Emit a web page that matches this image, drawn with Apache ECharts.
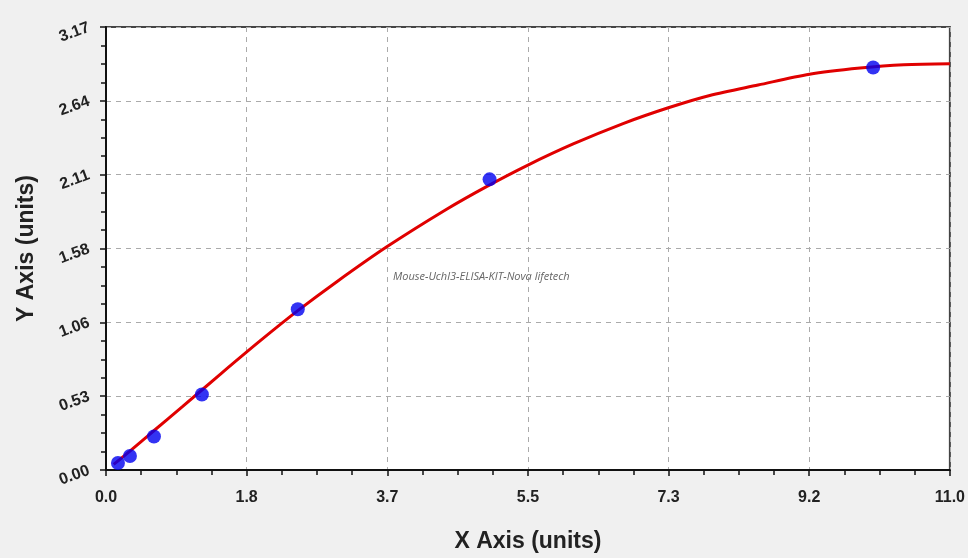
<!DOCTYPE html>
<html>
<head>
<meta charset="utf-8">
<script src="https://cdn.jsdelivr.net/npm/echarts@6/dist/echarts.min.js"></script>
<style>
  html, body { margin: 0; padding: 0; background: #f0f0f0; }
  #chart { width: 968px; height: 558px; }
</style>
</head>
<body>
<div id="chart"></div>
<script>
/* Standard curve - ELISA kit, concentration vs OD */

// Standards (blue dots)
const stdX = [0.156, 0.312, 0.625, 1.25, 2.5, 5, 10];
const stdY = [0.05, 0.10, 0.24, 0.54, 1.15, 2.08, 2.88];

// Fitted curve (red line)
const curveX = [0.1, 0.3, 0.6, 1.0, 1.5, 2.0, 2.5, 3.0, 3.66, 4.44, 4.96, 5.5, 6.09, 6.74, 7.33, 7.87, 8.5, 9.17, 9.83, 10.4, 11.0];
const curveY = [0.04, 0.13, 0.27, 0.455, 0.69, 0.92, 1.14, 1.344, 1.597, 1.866, 2.028, 2.182, 2.333, 2.479, 2.592, 2.68, 2.755, 2.832, 2.876, 2.9, 2.907];

// Tick labels as printed
const xTickLabels = ['0.0', '1.8', '3.7', '5.5', '7.3', '9.2', '11.0'];
const yTickLabels = ['0.00', '0.53', '1.06', '1.58', '2.11', '2.64', '3.17'];

const xMax = 11.0, yMax = 3.17;
const xStep = xMax / 6, yStep = yMax / 6;

const chart = echarts.init(document.getElementById('chart'), null, { renderer: 'canvas' });

const labelFont = 'Arial, "Liberation Sans", sans-serif';

const option = {
  backgroundColor: '#f0f0f0',
  animation: false,
  grid: {
    left: 106, right: 18, top: 27, bottom: 85,
    show: true, backgroundColor: '#ffffff',
    borderColor: '#444', borderWidth: 2
  },
  xAxis: {
    type: 'value',
    min: 0, max: xMax, interval: xStep,
    name: 'X Axis (units)',
    nameLocation: 'middle',
    nameGap: 60,
    nameTextStyle: { fontSize: 23, fontWeight: 'bold', color: '#222', fontFamily: labelFont },
    axisLine: { show: true, lineStyle: { color: '#111', width: 2 } },
    axisTick: { show: true, length: 6, lineStyle: { color: '#111', width: 1.5 } },
    minorTick: { show: true, splitNumber: 4, length: 5, lineStyle: { color: '#111', width: 1.5 } },
    axisLabel: {
      margin: 20, fontSize: 16, fontWeight: 'bold', color: '#222', fontFamily: labelFont,
      formatter: v => xTickLabels[Math.round(v / xStep)] ?? ''
    },
    splitLine: { show: true, lineStyle: { type: [5, 5], color: '#aaa', width: 1 } }
  },
  yAxis: {
    type: 'value',
    min: 0, max: yMax, interval: yStep,
    name: 'Y Axis (units)',
    nameLocation: 'middle',
    nameGap: 68,
    nameTextStyle: { fontSize: 23, fontWeight: 'bold', color: '#222', fontFamily: labelFont },
    axisLine: { show: true, lineStyle: { color: '#111', width: 2 } },
    axisTick: { show: true, length: 6, lineStyle: { color: '#111', width: 1.5 } },
    minorTick: { show: true, splitNumber: 4, length: 5, lineStyle: { color: '#111', width: 1.5 } },
    axisLabel: {
      margin: 17, rotate: 20, fontSize: 16, fontWeight: 'bold', color: '#222', fontFamily: labelFont,
      formatter: v => yTickLabels[Math.round(v / yStep)] ?? ''
    },
    splitLine: { show: true, lineStyle: { type: [5, 5], color: '#aaa', width: 1 } }
  },
  graphic: [{
    type: 'text',
    left: 393, top: 271,
    style: {
      text: 'Mouse-Uchl3-ELISA-KIT-Nova lifetech',
      fontSize: 11, fontStyle: 'italic', fill: '#666', fontFamily: '"Open Sans", sans-serif'
    },
    z: 10
  }],
  series: [
    {
      name: 'Curve',
      type: 'line',
      smooth: 0.3,
      showSymbol: false,
      lineStyle: { color: '#e00000', width: 3 },
      data: curveX.map((x, i) => [x, curveY[i]]),
      z: 3
    },
    {
      name: 'Standards',
      type: 'scatter',
      symbol: 'circle',
      symbolSize: 14,
      itemStyle: { color: '#0000f0' },
      data: stdX.map((x, i) => [x, stdY[i]]),
      z: 4
    }
  ]
};

chart.setOption(option);
</script>
</body>
</html>
